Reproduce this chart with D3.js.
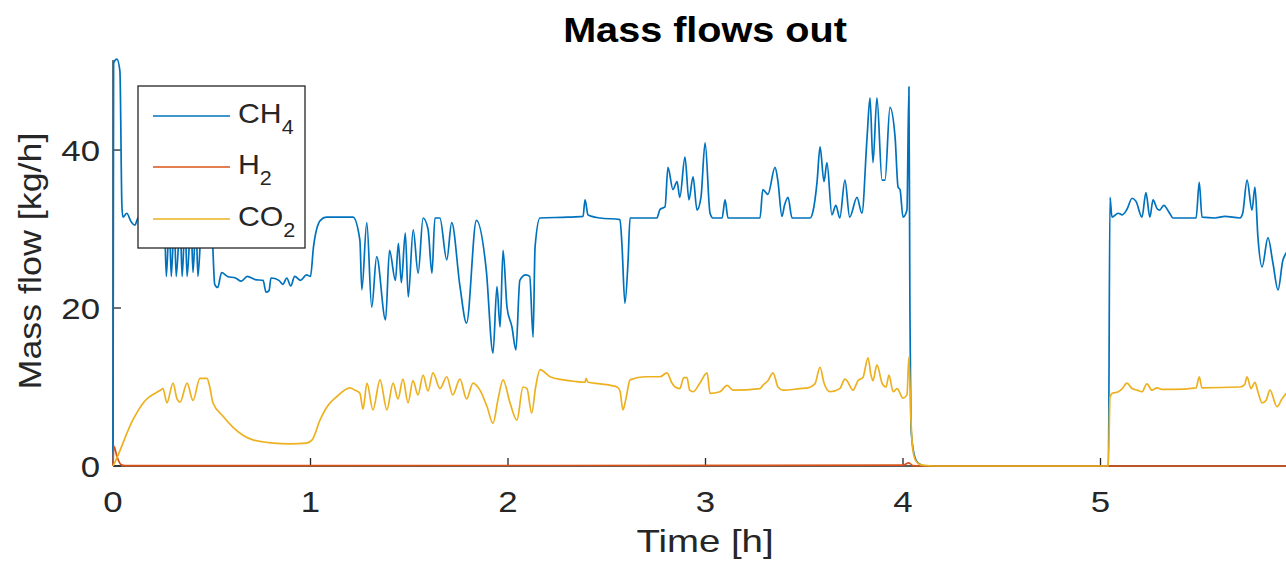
<!DOCTYPE html>
<html>
<head>
<meta charset="utf-8">
<script src="https://cdn.jsdelivr.net/npm/d3@7"></script>
<style>
  body { margin: 0; background: #fff; }
  svg { display: block; font-family: "Liberation Sans", Arial, sans-serif; }
</style>
</head>
<body>
<svg width="1286" height="575"></svg>
<script>
// time [h] and mass flow [kg/h]
const ch4T = [0, 0.003, 0.02, 0.035, 0.045, 0.05, 0.07, 0.09, 0.11, 0.13, 0.2, 0.26, 0.27, 0.285, 0.295, 0.31, 0.32, 0.34, 0.35, 0.365, 0.375, 0.395, 0.405, 0.42, 0.43, 0.45, 0.5, 0.505, 0.515, 0.53, 0.55, 0.58, 0.62, 0.65, 0.68, 0.72, 0.76, 0.775, 0.79, 0.8, 0.84, 0.86, 0.88, 0.9, 0.92, 0.95, 0.98, 1.0,
  1.015, 1.05, 1.08, 1.215, 1.25, 1.26, 1.285, 1.31, 1.335, 1.38, 1.4, 1.43, 1.445, 1.46, 1.48, 1.495, 1.52, 1.545, 1.57, 1.595, 1.615, 1.63, 1.655, 1.69, 1.715, 1.757, 1.79, 1.84, 1.89, 1.924, 1.944, 1.96, 1.975, 1.995, 2.02, 2.04, 2.06, 2.09, 2.11, 2.127, 2.137, 2.162,
  2.3, 2.38, 2.39, 2.405, 2.425, 2.466, 2.567, 2.577, 2.592, 2.608, 2.618, 2.754, 2.77, 2.795, 2.81, 2.835, 2.856, 2.87, 2.896, 2.916, 2.937, 2.957, 2.977, 2.998, 3.023, 3.038, 3.084, 3.099, 3.114, 3.276, 3.29, 3.316, 3.352, 3.367, 3.387, 3.4, 3.418, 3.438, 3.53, 3.544, 3.565, 3.58, 3.6, 3.615, 3.64, 3.66, 3.68, 3.706, 3.73, 3.767, 3.792, 3.818, 3.833, 3.848, 3.868, 3.894, 3.909, 3.934, 3.96, 3.975, 3.985, 4.0, 4.02, 4.03, 4.035, 4.04, 4.056, 4.076, 4.11,
  5.04, 5.048, 5.058, 5.09, 5.11, 5.134, 5.16, 5.18, 5.21, 5.23, 5.25, 5.266, 5.286, 5.3, 5.32, 5.35, 5.367, 5.484, 5.5, 5.514, 5.58, 5.63, 5.706, 5.72, 5.742, 5.767, 5.782, 5.797, 5.818, 5.848, 5.873, 5.899, 5.924, 5.96];
const ch4V = [0, 51, 51.5, 50, 33, 31.5, 32, 31, 30.5, 31.5, 31.5, 31, 24, 31, 24, 31, 24, 31, 24, 31, 24, 31, 24.5, 31, 24, 31, 31, 28, 23, 22.6, 24.5, 24, 23.8, 23.4, 24, 23.6, 23.5, 22, 22.2, 23.8, 23.5, 23, 23.8, 22.8, 24, 23.5, 24.2, 24,
  27.7, 31.1, 31.5, 31.5, 28.6, 22.3, 30.8, 20.1, 26.5, 18.5, 27.3, 23.5, 28.2, 23.2, 29.5, 21.4, 29.9, 24.4, 31.4, 30, 24.4, 31.4, 31.4, 26.1, 30.8, 22.7, 18.1, 31.1, 24.8, 14.3, 22.7, 17.6, 27.3, 20.1, 17.6, 14.7, 23.5, 24.2, 24, 16.3, 27.7, 31.4,
  31.5, 31.6, 33.7, 31.8, 31.6, 31.4, 31.2, 28, 20.6, 26, 31.4, 31.4, 32.5, 32.8, 37.8, 35, 36, 34, 39.1, 33.7, 36.6, 32.4, 34, 40.9, 32, 31.4, 31.4, 33.7, 31.4, 31.4, 35, 34.4, 37.8, 36, 31.6, 33, 34, 31.4, 31.4, 32.2, 36, 40.4, 36, 38.4, 31.8, 33, 31.4, 36.2, 31.5, 34, 32, 41.6, 46.6, 38.4, 46.6, 36.2, 36.2, 45.4, 41.6, 35.3, 35, 31.5, 32.4, 48, 20, 5, 1.5, 0.4, 0,
  0, 34, 31.5, 32, 31.8, 32.5, 33.9, 33.5, 31.5, 34.6, 31.5, 33.7, 32.6, 32.4, 33, 32, 31.4, 31.4, 35.9, 31.5, 31.4, 31.6, 31.4, 32, 36.2, 32.4, 35.3, 29, 25.2, 28.9, 25.7, 22.3, 26.1, 27.5];

const h2T = [0, 0.005, 0.02, 0.04, 0.06, 4.0, 4.03, 4.05, 4.08, 5.96];
const h2V = [0, 2.5, 1.2, 0.2, 0.05, 0.1, 0.4, 0.05, 0, 0];

const co2T = [0, 0.01, 0.1, 0.16, 0.24, 0.253, 0.273, 0.304, 0.324, 0.34, 0.375, 0.405, 0.44, 0.476, 0.49, 0.506, 0.557, 0.608, 0.658, 0.709, 0.81, 0.896, 0.98, 1.008, 1.048, 1.084, 1.134, 1.2, 1.225, 1.25, 1.266, 1.286, 1.316, 1.352, 1.387, 1.418, 1.443, 1.468, 1.494, 1.519, 1.544, 1.57, 1.595, 1.62, 1.656, 1.69, 1.72, 1.757, 1.79, 1.823, 1.858, 1.894, 1.924, 1.95, 1.975, 2.01, 2.045, 2.076, 2.096, 2.12, 2.14, 2.162,
  2.213, 2.28, 2.34, 2.39, 2.395, 2.405, 2.466, 2.552, 2.567, 2.582, 2.597, 2.618, 2.694, 2.77, 2.805, 2.83, 2.846, 2.87, 2.89, 2.906, 2.92, 2.937, 2.972, 3.008, 3.023, 3.073, 3.109, 3.139, 3.276, 3.29, 3.316, 3.342, 3.367, 3.392, 3.478, 3.519, 3.554, 3.58, 3.6, 3.63, 3.68, 3.706, 3.716, 3.747, 3.772, 3.797, 3.823, 3.838, 3.848, 3.868, 3.894, 3.914, 3.929, 3.95, 3.97, 4.0, 4.02, 4.03, 4.04, 4.05, 4.066, 4.096, 4.15,
  5.04, 5.048, 5.06, 5.09, 5.11, 5.134, 5.16, 5.185, 5.21, 5.235, 5.26, 5.286, 5.31, 5.367, 5.484, 5.5, 5.514, 5.706, 5.73, 5.742, 5.762, 5.782, 5.797, 5.818, 5.838, 5.858, 5.894, 5.919, 5.96];
const co2V = [0, 0.5, 5.8, 8.2, 9.6, 9.8, 8, 10.5, 8.5, 8.1, 10.5, 8.3, 11.1, 11.1, 10, 8, 6.3, 4.9, 3.9, 3.3, 2.9, 2.8, 2.9, 3.3, 5.8, 7.5, 8.8, 9.9, 9.6, 9.2, 7.2, 10.5, 7.1, 10.9, 7.1, 10.5, 8.5, 11, 8, 10.8, 9, 11.5, 9.5, 11.8, 9.8, 11.3, 9, 11, 8.5, 10.5, 9.6, 7.5, 5.4, 8.5, 10.9, 8, 5.8, 10, 9.8, 6.7, 10, 12.2,
  11.3, 10.9, 10.7, 10.6, 11.1, 10.6, 10.4, 10, 9.5, 7.1, 8.5, 10.9, 11.3, 11.3, 11.8, 10.5, 10, 9.8, 11.2, 11.2, 9.6, 9.4, 10.5, 11.8, 9.2, 9.4, 10.2, 9.6, 9.8, 10.2, 10.8, 11.8, 10, 9.6, 9.8, 9.9, 10.4, 12.5, 10.5, 9.4, 9.8, 11, 10.8, 9.6, 10.8, 11.2, 13.7, 11.5, 10.8, 12.8, 10.5, 10, 11.5, 9.4, 9.8, 8.6, 9, 13.8, 6, 2, 0.6, 0.1, 0,
  0, 8.7, 9.2, 9.4, 9.8, 10.5, 9.8, 9.6, 9.4, 10.4, 9.6, 9.9, 9.7, 9.7, 9.9, 11.3, 9.9, 10, 10.3, 11.3, 9.8, 10.6, 9.4, 8, 8.3, 9.6, 7.5, 8.5, 9.8];

const xTicks = [0, 1, 2, 3, 4, 5, 6];
const xTickLabels = ["0", "1", "2", "3", "4", "5"];
const yTicks = [0, 20, 40];

const series = [
  {name: "CH", sub: "4", t: ch4T, v: ch4V, color: "#0072BD"},
  {name: "H", sub: "2", t: h2T, v: h2V, color: "#D95319"},
  {name: "CO", sub: "2", t: co2T, v: co2V, color: "#EDB120"}
];

const svg = d3.select("svg");
const axCol = "#262626";
const x = d3.scaleLinear().domain([0, 6]).range([113, 1298]);
const y = d3.scaleLinear().domain([0, 51.4]).range([466, 60]);

// text a bit wider than Liberation Sans, like the original
const stretchText = (g, tx, ty, str, size, sx, anchor, rot = 0) =>
  g.append("text")
    .attr("transform", `translate(${tx},${ty}) rotate(${rot}) scale(${sx},1)`)
    .attr("text-anchor", anchor)
    .style("font-size", size + "px")
    .attr("fill", axCol)
    .text(str);

svg.append("defs").append("clipPath").attr("id", "clip")
  .append("rect").attr("x", 112).attr("y", 55).attr("width", 1200).attr("height", 414);

// axes lines
svg.append("line").attr("x1", x(0)).attr("x2", x(0)).attr("y1", y(51.4)).attr("y2", y(0))
  .attr("stroke", axCol).attr("stroke-width", 1.3);
svg.append("line").attr("x1", x(0)).attr("x2", x(6)).attr("y1", y(0)).attr("y2", y(0))
  .attr("stroke", axCol).attr("stroke-width", 1.3);

svg.selectAll(".xt").data(xTicks).enter().append("line")
  .attr("x1", d => x(d)).attr("x2", d => x(d)).attr("y1", y(0)).attr("y2", y(0) - 8)
  .attr("stroke", axCol).attr("stroke-width", 1.3);
svg.selectAll(".yt").data(yTicks).enter().append("line")
  .attr("x1", x(0)).attr("x2", x(0) + 8).attr("y1", d => y(d)).attr("y2", d => y(d))
  .attr("stroke", axCol).attr("stroke-width", 1.3);

xTickLabels.forEach((d, i) => stretchText(svg, x(xTicks[i]), 512, d, 29, 1.2, "middle"));
yTicks.forEach(d => stretchText(svg, 100, y(d) + 10.5, d, 29, 1.2, "end"));

// lines
const line = d3.line().x(d => x(d[0])).y(d => y(d[1])).curve(d3.curveMonotoneX);
const plot = svg.append("g").attr("clip-path", "url(#clip)");
series.forEach(s => {
  plot.append("path")
    .datum(s.t.map((t, i) => [t, s.v[i]]))
    .attr("d", line)
    .attr("fill", "none")
    .attr("stroke", s.color)
    .attr("stroke-width", 1.7)
    .attr("stroke-linejoin", "round");
});

// labels + title
stretchText(svg, 705, 552, "Time [h]", 32, 1.2, "middle");
stretchText(svg, 41, 261, "Mass flow [kg/h]", 32, 1.12, "middle", -90);
svg.append("text")
  .attr("transform", "translate(705,42) scale(1.1,1)")
  .attr("text-anchor", "middle")
  .style("font-size", "36px").style("font-weight", "bold")
  .attr("fill", "#000")
  .text("Mass flows out");

// legend
const leg = svg.append("g");
leg.append("rect").attr("x", 138).attr("y", 86).attr("width", 167).attr("height", 162)
  .attr("fill", "#fff").attr("stroke", axCol).attr("stroke-width", 1.3);
const legY = [116, 167, 219];
series.forEach((s, i) => {
  leg.append("line").attr("x1", 153).attr("x2", 230).attr("y1", legY[i]).attr("y2", legY[i])
    .attr("stroke", s.color).attr("stroke-width", 1.7);
  const t = leg.append("text")
    .attr("transform", `translate(238,${legY[i] + 7}) scale(1.08,1)`)
    .style("font-size", "28px").attr("fill", axCol);
  t.append("tspan").text(s.name);
  t.append("tspan").attr("dy", 11).style("font-size", "20px").text(s.sub);
});
</script>
</body>
</html>
